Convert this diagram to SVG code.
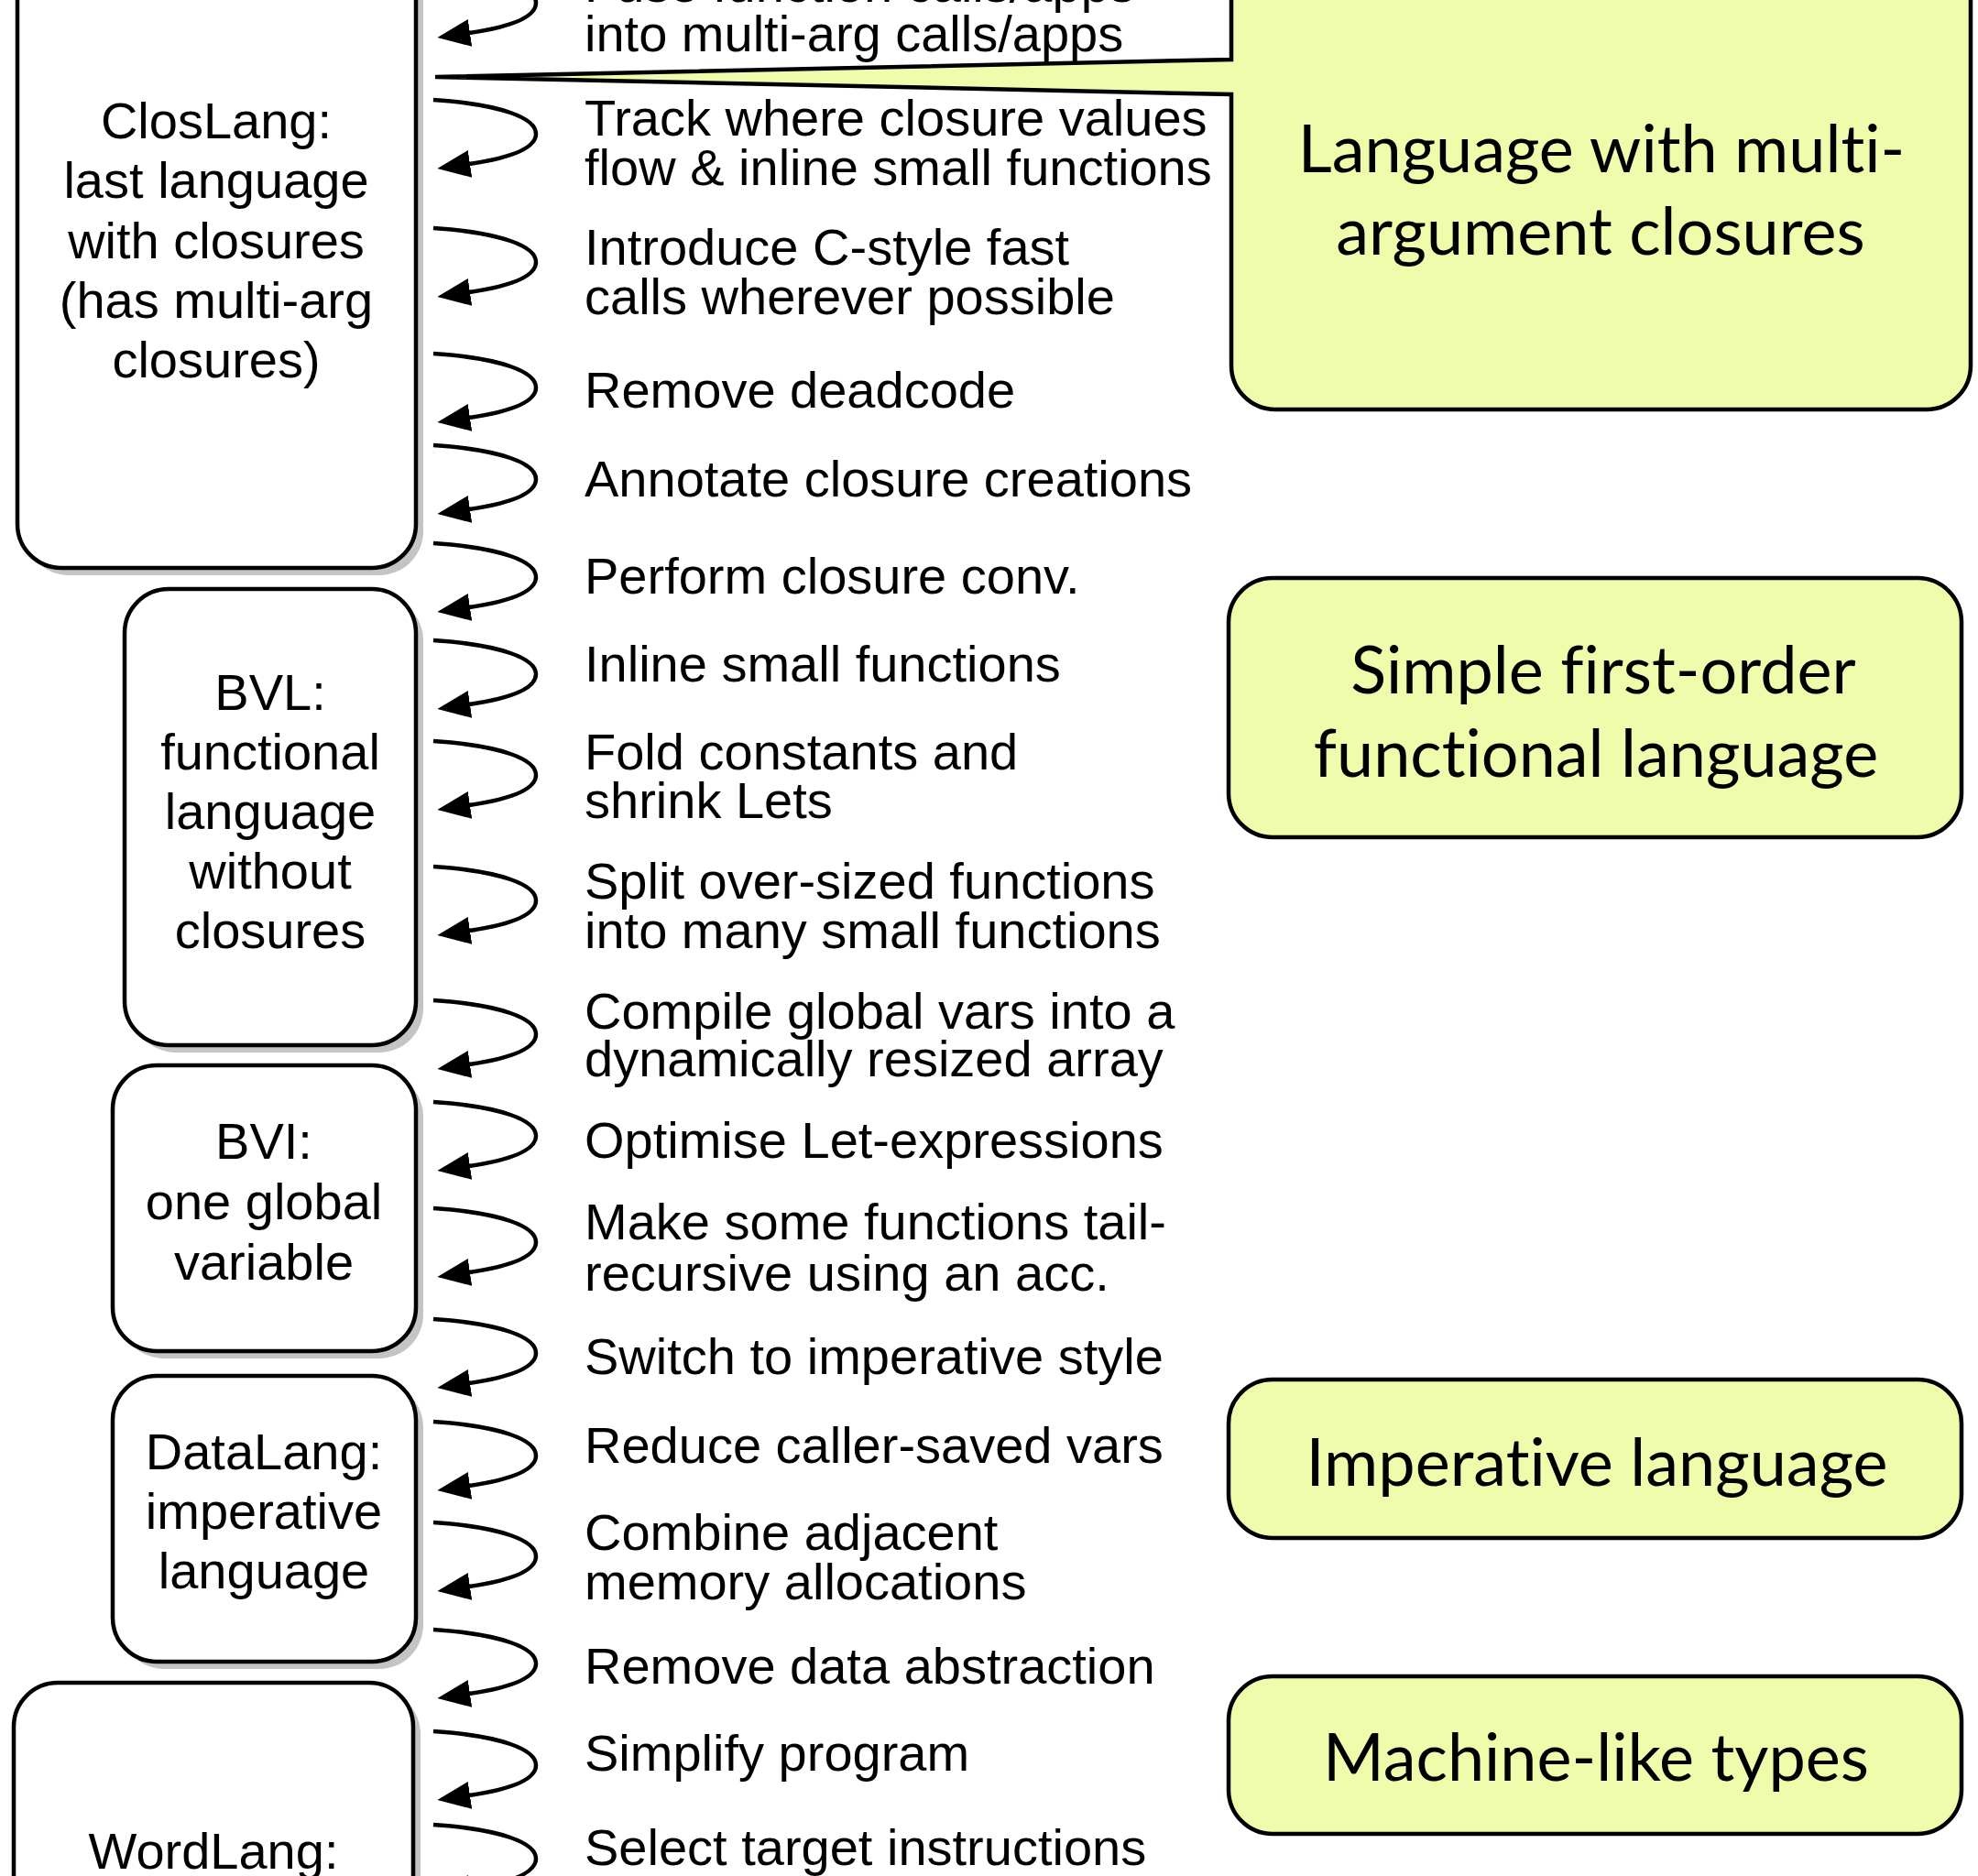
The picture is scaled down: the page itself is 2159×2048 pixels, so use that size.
<svg xmlns="http://www.w3.org/2000/svg" width="2159" height="2048" viewBox="0 0 2159 2048">
  <style>
    .lang { fill: #ffffff; stroke: #000000; stroke-width: 4.5; }
    .shadow { fill: #c4c4c4; stroke: none; }
    .group { fill: #eefcab; stroke: #000000; stroke-width: 4.5; }
    .loop { fill: none; stroke: #000000; stroke-width: 4.5; marker-end: url(#head); }
    .lbl { font-family: "Liberation Sans", Arial, Helvetica, sans-serif; font-size: 56px; fill: #000000; }
    .mid { text-anchor: middle; }
    .big { font-family: Lato, "Open Sans", "Noto Sans", sans-serif; font-size: 72px; fill: #000000; text-anchor: middle; font-variant-ligatures: none; }
  </style>
  <defs>
    <marker id="head" markerUnits="userSpaceOnUse" markerWidth="36" markerHeight="30" viewBox="0 0 36 30" refX="1" refY="15" orient="auto">
      <path d="M0,0 L36,15 L0,30 Z" fill="#000000"/>
    </marker>
  </defs>
  <rect width="2159" height="2048" fill="#ffffff"/>

  <!-- highlighted language groups -->
  <g id="group-multiarg">
    <path class="group" d="M1344,103 L1344,399 A48,48 0 0 0 1392,447 L2103,447 A48,48 0 0 0 2151,399 L2151,-80 L1344,-80 L1344,65 L475,84 Z"/>
    <text class="big" x="1748" y="188">Language with multi-</text>
    <text class="big" x="1747" y="278">argument closures</text>
  </g>
  <g id="group-firstorder">
    <rect class="group" x="1341" y="631" width="800" height="283" rx="48" ry="48"/>
    <text class="big" x="1750" y="757">Simple first-order</text>
    <text class="big" x="1742" y="848">functional language</text>
  </g>
  <g id="group-imperative">
    <rect class="group" x="1341" y="1506" width="800" height="173" rx="48" ry="48"/>
    <text class="big" x="1743" y="1622">Imperative language</text>
  </g>
  <g id="group-machine">
    <rect class="group" x="1341" y="1830" width="800" height="172" rx="48" ry="48"/>
    <text class="big" x="1742" y="1944">Machine-like types</text>
  </g>

  <!-- intermediate languages -->
  <g id="closlang">
    <rect class="shadow" x="27" y="-292" width="435" height="920" rx="48" ry="48"/>
    <rect class="lang" x="19" y="-300" width="435" height="920" rx="48" ry="48"/>
    <text class="lbl mid" x="236" y="151">ClosLang:</text>
    <text class="lbl mid" x="236" y="216">last language</text>
    <text class="lbl mid" x="236" y="282">with closures</text>
    <text class="lbl mid" x="236" y="347">(has multi-arg</text>
    <text class="lbl mid" x="236" y="412">closures)</text>
  </g>
  <g id="bvl">
    <rect class="shadow" x="144" y="651" width="318" height="498" rx="48" ry="48"/>
    <rect class="lang" x="136" y="643" width="318" height="498" rx="48" ry="48"/>
    <text class="lbl mid" x="295" y="775">BVL:</text>
    <text class="lbl mid" x="295" y="840">functional</text>
    <text class="lbl mid" x="295" y="905">language</text>
    <text class="lbl mid" x="295" y="970">without</text>
    <text class="lbl mid" x="295" y="1035">closures</text>
  </g>
  <g id="bvi">
    <rect class="shadow" x="131" y="1171" width="331" height="312" rx="48" ry="48"/>
    <rect class="lang" x="123" y="1163" width="331" height="312" rx="48" ry="48"/>
    <text class="lbl mid" x="288" y="1265">BVI:</text>
    <text class="lbl mid" x="288" y="1331">one global</text>
    <text class="lbl mid" x="288" y="1397">variable</text>
  </g>
  <g id="datalang">
    <rect class="shadow" x="131" y="1510" width="331" height="312" rx="48" ry="48"/>
    <rect class="lang" x="123" y="1502" width="331" height="312" rx="48" ry="48"/>
    <text class="lbl mid" x="288" y="1604">DataLang:</text>
    <text class="lbl mid" x="288" y="1669">imperative</text>
    <text class="lbl mid" x="288" y="1734">language</text>
  </g>
  <g id="wordlang">
    <rect class="shadow" x="23" y="1845" width="436" height="500" rx="48" ry="48"/>
    <rect class="lang" x="15" y="1837" width="436" height="500" rx="48" ry="48"/>
    <text class="lbl mid" x="233" y="2040">WordLang:</text>
  </g>

  <!-- compiler passes: one loop arrow per pass -->
  <g id="connectors">
    <path class="loop" d="M473,-34 C548,-29 585,-14 585,3 C585,18 560,29 512,36"/>
    <path class="loop" d="M473,109 C548,114 585,129 585,146 C585,161 560,172 512,179"/>
    <path class="loop" d="M473,249 C548,254 585,269 585,286 C585,301 560,312 512,319"/>
    <path class="loop" d="M473,386 C548,391 585,406 585,423 C585,438 560,449 512,456"/>
    <path class="loop" d="M473,486 C548,491 585,506 585,523 C585,538 560,549 512,556"/>
    <path class="loop" d="M473,593 C548,598 585,613 585,630 C585,645 560,656 512,663"/>
    <path class="loop" d="M473,699 C548,704 585,719 585,736 C585,751 560,762 512,769"/>
    <path class="loop" d="M473,809 C548,814 585,829 585,846 C585,861 560,872 512,879"/>
    <path class="loop" d="M473,946 C548,951 585,966 585,983 C585,998 560,1009 512,1016"/>
    <path class="loop" d="M473,1092 C548,1097 585,1112 585,1129 C585,1144 560,1155 512,1162"/>
    <path class="loop" d="M473,1203 C548,1208 585,1223 585,1240 C585,1255 560,1266 512,1273"/>
    <path class="loop" d="M473,1319 C548,1324 585,1339 585,1356 C585,1371 560,1382 512,1389"/>
    <path class="loop" d="M473,1440 C548,1445 585,1460 585,1477 C585,1492 560,1503 512,1510"/>
    <path class="loop" d="M473,1552 C548,1557 585,1572 585,1589 C585,1604 560,1615 512,1622"/>
    <path class="loop" d="M473,1662 C548,1667 585,1682 585,1699 C585,1714 560,1725 512,1732"/>
    <path class="loop" d="M473,1779 C548,1784 585,1799 585,1816 C585,1831 560,1842 512,1849"/>
    <path class="loop" d="M473,1890 C548,1895 585,1910 585,1927 C585,1942 560,1953 512,1960"/>
    <path class="loop" d="M473,1992 C548,1997 585,2012 585,2029 C585,2044 560,2055 512,2062"/>
  </g>

  <!-- pass descriptions -->
  <g id="passes">
    <text class="lbl" x="638" y="2">Fuse function calls/apps</text>
    <text class="lbl" x="638" y="56">into multi-arg calls/apps</text>
    <text class="lbl" x="638" y="148">Track where closure values</text>
    <text class="lbl" x="638" y="202">flow &amp; inline small functions</text>
    <text class="lbl" x="638" y="289">Introduce C-style fast</text>
    <text class="lbl" x="638" y="343">calls wherever possible</text>
    <text class="lbl" x="638" y="445">Remove deadcode</text>
    <text class="lbl" x="638" y="542">Annotate closure creations</text>
    <text class="lbl" x="638" y="648">Perform closure conv.</text>
    <text class="lbl" x="638" y="744">Inline small functions</text>
    <text class="lbl" x="638" y="840">Fold constants and</text>
    <text class="lbl" x="638" y="893">shrink Lets</text>
    <text class="lbl" x="638" y="981">Split over-sized functions</text>
    <text class="lbl" x="638" y="1035">into many small functions</text>
    <text class="lbl" x="638" y="1123">Compile global vars into a</text>
    <text class="lbl" x="638" y="1175">dynamically resized array</text>
    <text class="lbl" x="638" y="1264">Optimise Let-expressions</text>
    <text class="lbl" x="638" y="1353">Make some functions tail-</text>
    <text class="lbl" x="638" y="1409">recursive using an acc.</text>
    <text class="lbl" x="638" y="1500">Switch to imperative style</text>
    <text class="lbl" x="638" y="1597">Reduce caller-saved vars</text>
    <text class="lbl" x="638" y="1692">Combine adjacent</text>
    <text class="lbl" x="638" y="1746">memory allocations</text>
    <text class="lbl" x="638" y="1838">Remove data abstraction</text>
    <text class="lbl" x="638" y="1933">Simplify program</text>
    <text class="lbl" x="638" y="2036">Select target instructions</text>
  </g>
</svg>
